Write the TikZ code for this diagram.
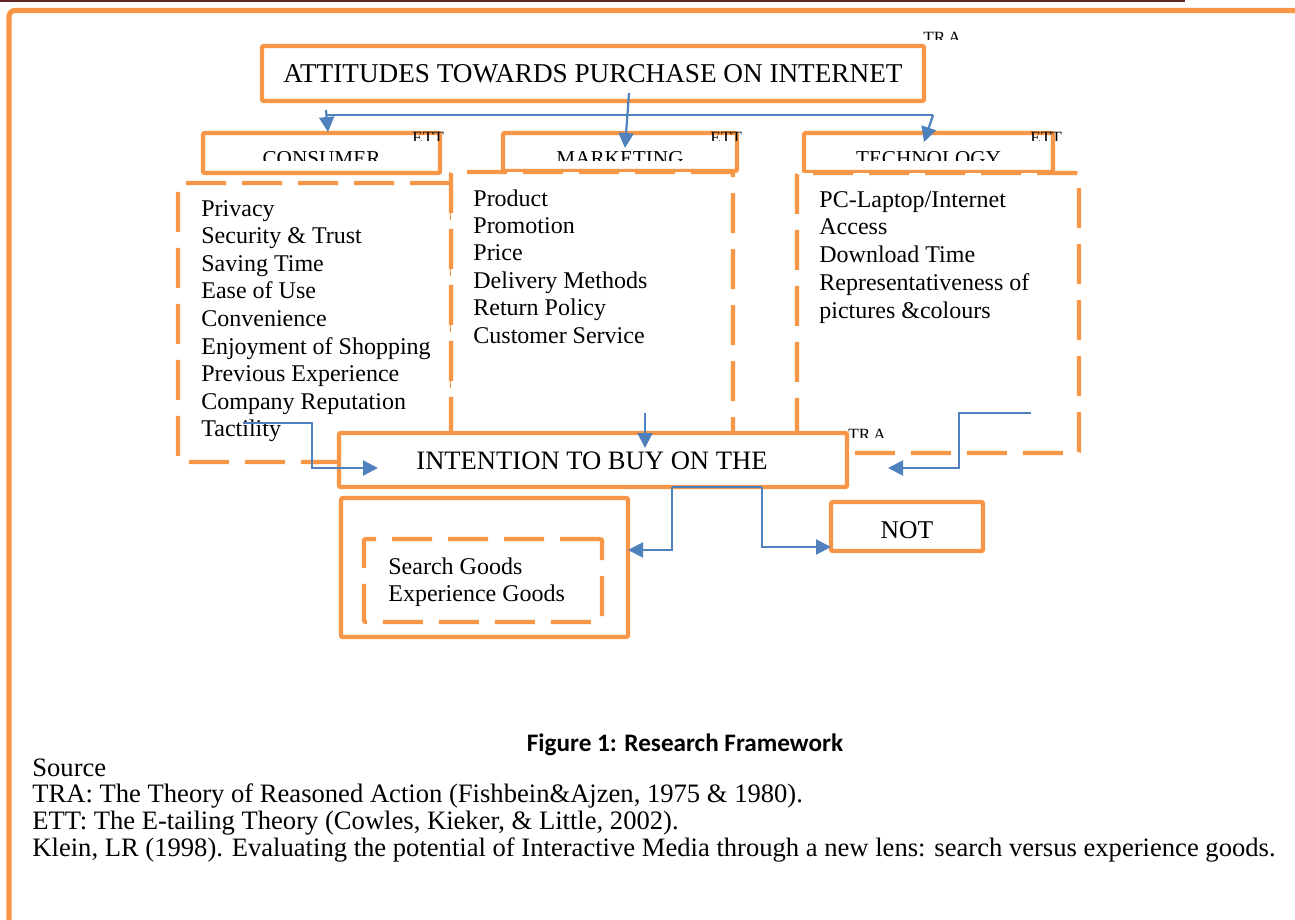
\documentclass[tikz,border=0pt]{standalone}
\usepackage{fontspec}
\setmainfont{Liberation Serif}
\newfontfamily\calfont{Carlito}
\usetikzlibrary{arrows.meta,fit}
\definecolor{orng}{HTML}{F79646}
\definecolor{blu}{HTML}{4F81BD}
\definecolor{maroonline}{HTML}{632523}
\newcommand\fs[2]{\fontsize{#1}{#2}\selectfont}
\begin{document}
\begin{tikzpicture}[x=0.5pt,y=-0.5pt,
  obox/.style={draw=orng,line width=2.2pt,fill=white,rounded corners=1pt,inner sep=0pt,outer sep=0pt},
  dbox/.style={obox,dash pattern=on 20pt off 8pt},
  conn/.style={draw=blu,line width=1.1pt},
  arr/.style={conn,-{Triangle[length=7.5pt,width=7.5pt]}},
  listtxt/.style={inner sep=0pt,anchor=base west},
  boxtxt/.style={inner sep=0pt,anchor=base},
  cattxt/.style={inner sep=0pt,anchor=base,font=\fs{10.6}{12}},
  smalllbl/.style={inner sep=0pt,anchor=base west,font=\fs{8.6}{10}}
]
\useasboundingbox (0,0) rectangle (1295,920);
% page rule and frame
\draw[maroonline,line width=1pt] (0,1) -- (1185,1);
\draw[orng,line width=2.6pt,rounded corners=3pt] (9,925) -- (9,10.5) -- (1300,10.5);

% title box
\node[obox,fit={(262,46) (924,101)}] (title) {};
\node[boxtxt,font=\fs{13.6}{15}] (titleT) at (593,83) {ATTITUDES TOWARDS PURCHASE ON INTERNET};

% category boxes
\node[obox,fit={(203,133) (440,173)}] (cons) {};
\node[obox,fit={(503,133) (737,171)}] (mkt) {};
\node[obox,fit={(804,133) (1053,172)}] (tech) {};
\begin{scope}
  \clip (205,135) rectangle (438,160);
  \node[cattxt] (consT) at (321.5,165) {CONSUMER};
\end{scope}
\begin{scope}
  \clip (505,135) rectangle (735,160);
  \node[cattxt] (mktT) at (620,165) {MARKETING};
\end{scope}
\begin{scope}
  \clip (806,135) rectangle (1051,160);
  \node[cattxt] (techT) at (928.5,165) {TECHNOLOGY};
\end{scope}

% dashed list boxes
\node[dbox,fit={(178,183) (452,462)}] (consD) {};
\node[dbox,fit={(451,172) (733,455)}] (mktD) {};
\node[dbox,fit={(797,173) (1079,453)}] (techD) {};

\node[listtxt,font=\fs{12}{13.8}] (consList) at (201,216) {\begin{tabular}[t]{@{}l@{}}Privacy\\Security \& Trust\\Saving Time\\Ease of Use\\Convenience\\Enjoyment of Shopping\\Previous Experience\\Company Reputation\\Tactility\end{tabular}};
\node[listtxt,font=\fs{12}{13.7}] (mktList) at (473,206) {\begin{tabular}[t]{@{}l@{}}Product\\Promotion\\Price\\Delivery Methods\\Return Policy\\Customer Service\end{tabular}};
\node[listtxt,font=\fs{12}{13.9}] (techList) at (819,207) {\begin{tabular}[t]{@{}l@{}}PC-Laptop/Internet\\Access\\Download Time\\Representativeness of\\pictures \&colours\end{tabular}};

% intention box
\node[obox,fit={(339,433) (847,487)}] (intent) {};
\node[boxtxt,font=\fs{13.3}{15}] (intentT) at (592,469) {INTENTION TO BUY ON THE};

% goods boxes
\node[obox,fit={(341,498) (628,637)}] (goods) {};
\node[dbox,fit={(364,539) (602,622)}] (goodsD) {};
\node[listtxt,font=\fs{12}{13.5}] (goodsList) at (388,574) {\begin{tabular}[t]{@{}l@{}}Search Goods\\Experience Goods\end{tabular}};

% NOT box
\node[obox,fit={(831,502) (983,551)}] (notbox) {};
\node[boxtxt,font=\fs{12.8}{14}] (notT) at (907,538) {NOT};

% small clipped labels
\begin{scope}
  \clip (905,25) rectangle (975,40);
  \node[smalllbl] (traTop) at (923,43.6) {TR\kern1.5pt A};
\end{scope}
\begin{scope}
  \clip (840,420) rectangle (900,437);
  \node[smalllbl] (traMid) at (848,440.6) {TR\kern1.5pt A};
\end{scope}
\begin{scope}
  \clip (400,125) rectangle (460,140);
  \node[smalllbl] (ettC) at (412,143.3) {ETT};
\end{scope}
\begin{scope}
  \clip (700,125) rectangle (760,140);
  \node[smalllbl] (ettM) at (710,143.3) {ETT};
\end{scope}
\begin{scope}
  \clip (1020,125) rectangle (1080,140);
  \node[smalllbl] (ettT) at (1030,143.3) {ETT};
\end{scope}

% connector coordinates
\coordinate (tS) at (629,93);
\coordinate (mTip) at (625,148);
\coordinate (hL) at (326,115);
\coordinate (hR) at (933,115);
\coordinate (cS) at (326,110);
\coordinate (cTip) at (328,132);
\coordinate (tTip) at (924,142);
\coordinate (mkS) at (645,413);
\coordinate (mkTip) at (645,448);
\coordinate (tacS) at (243,423);
\coordinate (tacTip) at (378,468);
\coordinate (teS) at (1031,413);
\coordinate (teTip) at (888,468);
\coordinate (iL) at (672,487);
\coordinate (iR) at (762,487);

% connectors
\draw[arr] (tS) -- (mTip);
\draw[conn] (hL) -- (hR);
\draw[arr] (hR) -- (tTip);
\draw[arr] (cS) -- (cTip);
\draw[arr] (mkS) -- (mkTip);
\draw[arr] (tacS) -- (312,423) -- (312,468) -- (tacTip);
\draw[arr] (teS) -- (959,413) -- (959,468) -- (teTip);
\draw[conn] (iL) -- (iR);
\draw[arr] (iL) -- (672,550) -- (goods.east |- 0,550);
\draw[arr] (iR) -- (762,547) -- (notbox.west |- 0,547);

% caption and sources
\node[inner sep=0pt,anchor=base,font=\calfont\bfseries\fs{12.6}{14}] (caption) at (685,751) {Figure 1: Research Framework};
\node[listtxt,font=\fs{13.3}{13.3}] (footer) at (32,776) {\begin{tabular}[t]{@{}l@{}}Source\\TRA: The Theory of Reasoned Action (Fishbein\&Ajzen, 1975 \& 1980).\\ETT: The E-tailing Theory (Cowles, Kieker, \& Little, 2002).\\Klein, LR (1998). Evaluating the potential of Interactive Media through a new lens: search versus experience goods.\end{tabular}};
\end{tikzpicture}
\end{document}
